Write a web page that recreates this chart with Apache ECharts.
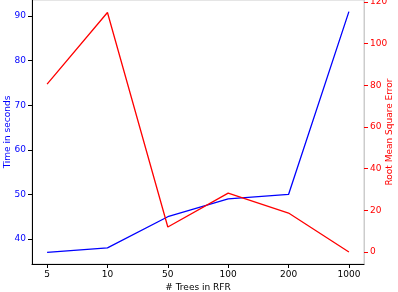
<!DOCTYPE html>
<html><head><meta charset="utf-8">
<script src="https://cdn.jsdelivr.net/npm/echarts@6/dist/echarts.min.js"></script>
<style>html,body{margin:0;padding:0;background:#fff}#c{width:398px;height:292px}</style>
</head><body><div id="c"></div>
<script>
const categories = ['5','10','50','100','200','1000'];
const timeSeconds = [37, 38, 45, 49, 50, 91];
const rmse = [80.6, 115, 12, 28.3, 18.7, 0];
const timeTicks = [40, 50, 60, 70, 80, 90];
const rmseTicks = [0, 20, 40, 60, 80, 100, 120];
const xTicks = [0, 1, 2, 3, 4, 5];

const chart = echarts.init(document.getElementById('c'), null, {renderer:'canvas'});
const font = 'DejaVu Sans';
const fs = 9;
chart.setOption({
  animation:false,
  textStyle:{fontFamily:font},
  grid:{left:32, right:34, top:0, bottom:28, show:true, borderColor:'#cccccc', borderWidth:1,
        outerBoundsMode:'none', containLabel:false},
  xAxis:{type:'value', min:-0.25, max:5.25,
    name:'# Trees in RFR', nameLocation:'middle', nameGap:19, nameMoveOverlap:false,
    nameTextStyle:{color:'#000', fontSize:fs, fontFamily:font},
    axisLine:{onZero:false, lineStyle:{color:'#000'}},
    axisTick:{show:true, length:4, lineStyle:{color:'#000'}, customValues:xTicks},
    splitLine:{show:false},
    axisLabel:{color:'#000', fontSize:fs, margin:6, fontFamily:font, customValues:xTicks,
      formatter:v=>categories[Math.round(v)]}
  },
  yAxis:[
    {type:'value', min:34.4, max:93.6, position:'left',
     name:'Time in seconds', nameLocation:'middle', nameGap:20, nameMoveOverlap:false,
     nameTextStyle:{color:'#0000ff', fontSize:fs, fontFamily:font},
     axisLine:{show:true, onZero:false, lineStyle:{color:'#000'}},
     axisTick:{show:true, length:4, lineStyle:{color:'#000'}, customValues:timeTicks},
     splitLine:{show:false},
     axisLabel:{color:'#0000ff', fontSize:fs, margin:6, fontFamily:font, customValues:timeTicks}
    },
    {type:'value', min:-5.75, max:121, position:'right',
     name:'Root Mean Square Error', nameLocation:'middle', nameGap:21, nameMoveOverlap:false,
     nameTextStyle:{color:'#ff0000', fontSize:fs, fontFamily:font},
     axisLine:{show:true, onZero:false, lineStyle:{color:'#cccccc'}},
     axisTick:{show:true, length:4, lineStyle:{color:'#ff0000'}, customValues:rmseTicks},
     splitLine:{show:false},
     axisLabel:{color:'#ff0000', fontSize:fs, margin:6, fontFamily:font, customValues:rmseTicks}
    }
  ],
  series:[
    {type:'line', yAxisIndex:0, data:timeSeconds.map((v,i)=>[i,v]), showSymbol:false,
     lineStyle:{color:'#0000ff', width:1.3}, itemStyle:{color:'#0000ff'}},
    {type:'line', yAxisIndex:1, data:rmse.map((v,i)=>[i,v]), showSymbol:false,
     lineStyle:{color:'#ff0000', width:1.3}, itemStyle:{color:'#ff0000'}}
  ]
});
</script></body></html>
